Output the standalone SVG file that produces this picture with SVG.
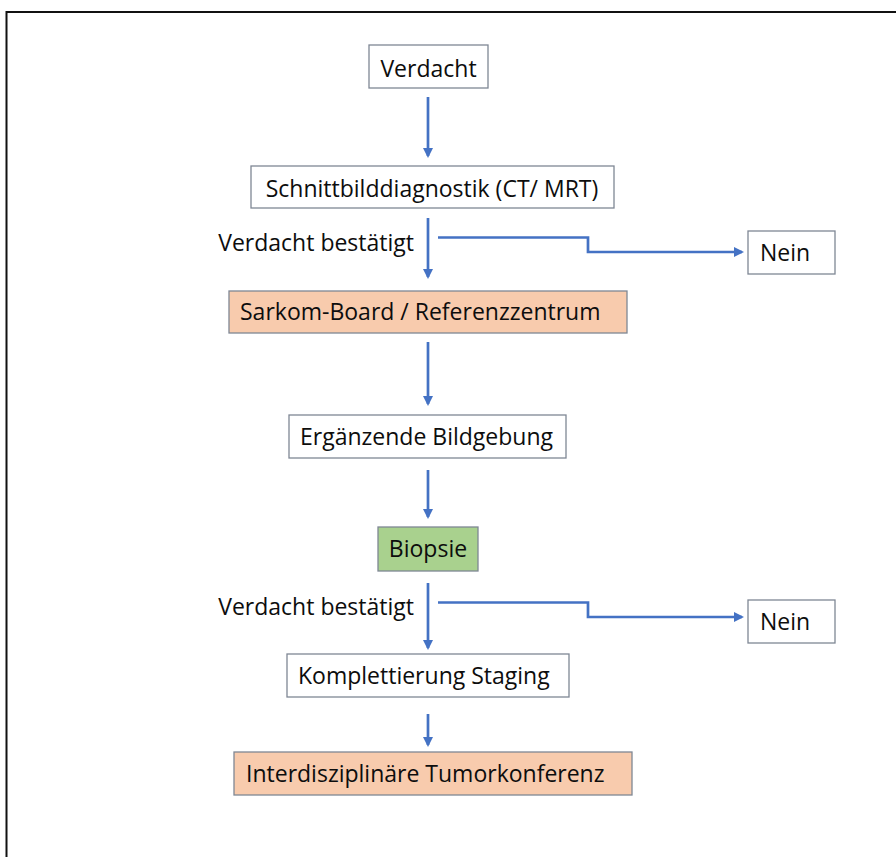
<svg xmlns="http://www.w3.org/2000/svg" width="896" height="857" viewBox="0 0 896 857">
<defs>
<style>
.box{fill:#ffffff;stroke:#7f8794;stroke-width:1.3}
.orange{fill:#f8cbad}
.green{fill:#a9d18e}
.t{font-family:"Open Sans","Noto Sans","Liberation Sans",sans-serif;font-size:23px;fill:#0d0d0d}
.c{text-anchor:middle}
.line{fill:none;stroke:#4472c4;stroke-width:2.7}
</style>
<marker id="ah" markerWidth="10" markerHeight="10" refX="8" refY="5" orient="auto" markerUnits="userSpaceOnUse">
<path d="M0,0 L10,5 L0,10 Z" fill="#4472c4"/>
</marker>
</defs>
<rect width="896" height="857" fill="#ffffff"/>
<path d="M6.5,857 V12 H896" fill="none" stroke="#111111" stroke-width="2"/>
<g id="connectors">
<path class="line" d="M428,97 V156" marker-end="url(#ah)"/>
<path class="line" d="M428,218 V277" marker-end="url(#ah)"/>
<path class="line" d="M428,342 V404" marker-end="url(#ah)"/>
<path class="line" d="M428,470 V517" marker-end="url(#ah)"/>
<path class="line" d="M428,583 V648" marker-end="url(#ah)"/>
<path class="line" d="M428,714 V745" marker-end="url(#ah)"/>
<path class="line" d="M438,237.5 H588 V252 H742" marker-end="url(#ah)"/>
<path class="line" d="M438,602.5 H588 V617 H742" marker-end="url(#ah)"/>
</g>
<g id="label1"><text class="t" x="414" y="251" text-anchor="end">Verdacht bestätigt</text></g>
<g id="label2"><text class="t" x="414" y="615" text-anchor="end">Verdacht bestätigt</text></g>
<g id="n-verdacht"><rect class="box" x="369" y="45" width="119" height="43"/><text class="t c" x="428.5" y="77">Verdacht</text></g>
<g id="n-schnitt"><rect class="box" x="251" y="166" width="363" height="42"/><text class="t c" x="432" y="197">Schnittbilddiagnostik (CT/ MRT)</text></g>
<g id="n-nein1"><rect class="box" x="748" y="231" width="87" height="43"/><text class="t" x="760" y="261">Nein</text></g>
<g id="n-sarkom"><rect class="box orange" x="229" y="291" width="398" height="42"/><text class="t" x="240" y="320">Sarkom-Board / Referenzzentrum</text></g>
<g id="n-ergaenzend"><rect class="box" x="289" y="415" width="277" height="43"/><text class="t" x="300" y="445">Ergänzende Bildgebung</text></g>
<g id="n-biopsie"><rect class="box green" x="378" y="527" width="100" height="44"/><text class="t c" x="428" y="557">Biopsie</text></g>
<g id="n-nein2"><rect class="box" x="748" y="600" width="87" height="43"/><text class="t" x="760" y="630">Nein</text></g>
<g id="n-staging"><rect class="box" x="287" y="654" width="282" height="43"/><text class="t" x="298" y="684">Komplettierung Staging</text></g>
<g id="n-tumorkonferenz"><rect class="box orange" x="234" y="752" width="398" height="43"/><text class="t" x="246" y="782">Interdisziplinäre Tumorkonferenz</text></g>
</svg>
